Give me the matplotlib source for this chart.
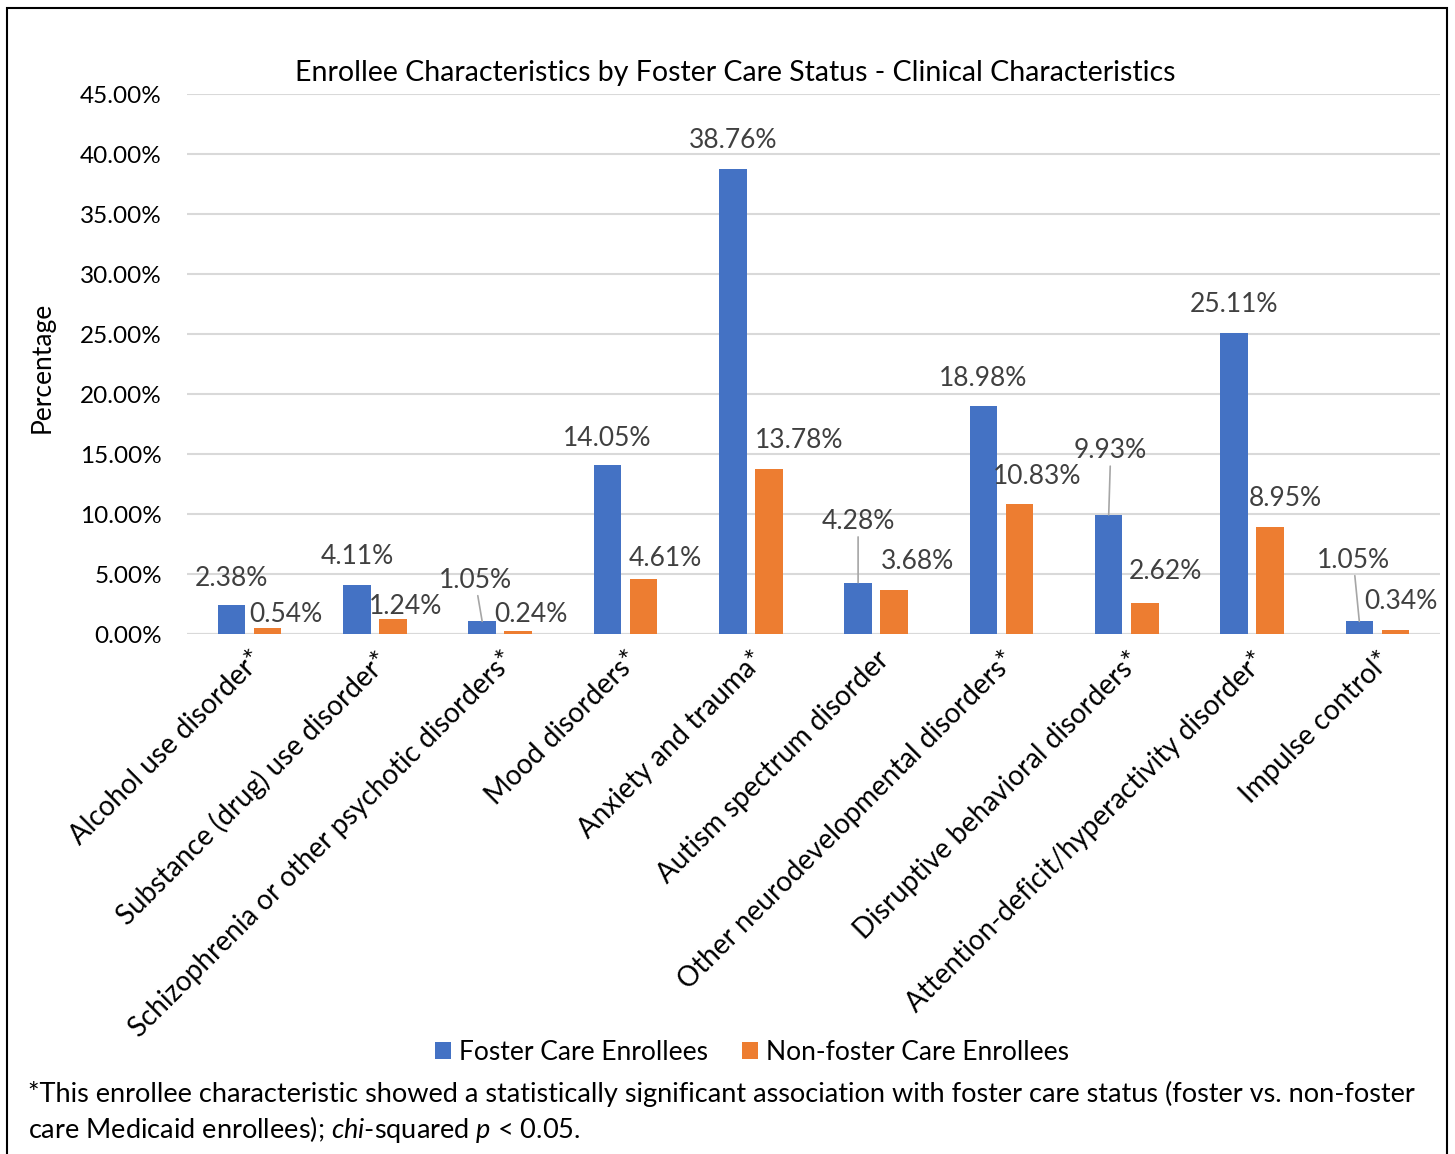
import matplotlib
matplotlib.use("Agg")
import matplotlib.pyplot as plt
import numpy as np
from matplotlib.patches import Rectangle

plt.rcParams['font.family'] = ['Lato', 'DejaVu Sans']
plt.rcParams['mathtext.fontset'] = 'custom'
plt.rcParams['mathtext.rm'] = 'Lato'
plt.rcParams['mathtext.it'] = 'Lato:italic'

categories = ["Alcohol use disorder*", "Substance (drug) use disorder*",
              "Schizophrenia or other psychotic disorders*", "Mood disorders*",
              "Anxiety and trauma*", "Autism spectrum disorder",
              "Other neurodevelopmental disorders*", "Disruptive behavioral disorders*",
              "Attention-deficit/hyperactivity disorder*", "Impulse control*"]
foster = [2.38, 4.11, 1.05, 14.05, 38.76, 4.28, 18.98, 9.93, 25.11, 1.05]
nonfoster = [0.54, 1.24, 0.24, 4.61, 13.78, 3.68, 10.83, 2.62, 8.95, 0.34]
yticks = np.arange(0, 46, 5)

# label offsets from bar tops, in pixels (dx, dy)
foster_off = [(0, 27), (0, 28), (-7, 41), (0, 27), (0, 28), (0, 61), (0, 28), (2, 64), (0, 28), (-6, 61)]
nonfoster_off = [(18, 13), (13, 13), (13, 17), (22, 20), (30, 28), (23, 28), (18, 28), (21, 31), (15, 28), (6, 28)]
leaders = [2, 5, 7, 9]

blue = "#4472C4"
orange = "#ED7D31"

fig = plt.figure(figsize=(14.55, 11.54), dpi=100)
ax = fig.add_axes([0.1285, 0.4506, 0.8612, 0.4679])

x = np.arange(len(categories))
w = 0.22
b1 = ax.bar(x - 0.144, foster, w, color=blue, zorder=3)
b2 = ax.bar(x + 0.144, nonfoster, w, color=orange, zorder=3)

ax.set_xlim(-0.5, len(categories) - 0.5)
ax.set_ylim(0, 45)
ax.set_yticks(yticks)
ax.set_yticklabels([f"{v:.2f}%" for v in yticks], fontsize=17.5)
ax.yaxis.grid(True, color="#d9d9d9", linewidth=1.5, zorder=0)
ax.set_axisbelow(True)
for s in ax.spines.values():
    s.set_visible(False)
ax.tick_params(axis="both", length=0)
ax.tick_params(axis="y", pad=18)
ax.axhline(0, color="#d9d9d9", linewidth=1.5, zorder=2)

ax.set_xticks(x)
ax.set_xticklabels(categories, rotation=45, ha="right", va="top",
                   rotation_mode="anchor", fontsize=20)
ax.tick_params(axis="x", pad=9)

for i, v in enumerate(foster):
    dx, dy = foster_off[i]
    kw = {}
    if i in leaders:
        kw["arrowprops"] = dict(arrowstyle="-", color="#a6a6a6", lw=1.2,
                                shrinkA=0, shrinkB=0)
    ax.annotate(f"{v:.2f}%", xy=(x[i] - 0.144, v), xytext=(dx, dy),
                textcoords="offset pixels", ha="center", va="center",
                fontsize=19, color="#404040", zorder=4, **kw)
for i, v in enumerate(nonfoster):
    dx, dy = nonfoster_off[i]
    ax.annotate(f"{v:.2f}%", xy=(x[i] + 0.144, v), xytext=(dx, dy),
                textcoords="offset pixels", ha="center", va="center",
                fontsize=19, color="#404040", zorder=4)

fig.text(0.505, 0.937, "Enrollee Characteristics by Foster Care Status - Clinical Characteristics",
         ha="center", va="center", fontsize=20.5)
fig.text(0.029, 0.682, "Percentage", rotation=90, ha="center", va="center", fontsize=19)

fig.legend([b1, b2], ["Foster Care Enrollees", "Non-foster Care Enrollees"],
           loc="center", bbox_to_anchor=(0.517, 0.088), ncol=2, frameon=False,
           fontsize=19, handlelength=0.6, handleheight=0.6, handletextpad=0.3,
           columnspacing=1.3)

fig.text(0.019, 0.052, "*This enrollee characteristic showed a statistically significant "
         "association with foster care status (foster vs. non-foster",
         ha="left", va="center", fontsize=19.5)
fig.text(0.019, 0.021, r"care Medicaid enrollees); $\mathit{chi}$-squared $\mathit{p}$ < 0.05.",
         ha="left", va="center", fontsize=19.5)

fig.add_artist(Rectangle((7 / 1455, -0.05), 1440 / 1455, 1.05 - 8 / 1154,
                         transform=fig.transFigure, fill=False,
                         edgecolor="black", linewidth=1.5))

fig.savefig("out.png", dpi=100)
